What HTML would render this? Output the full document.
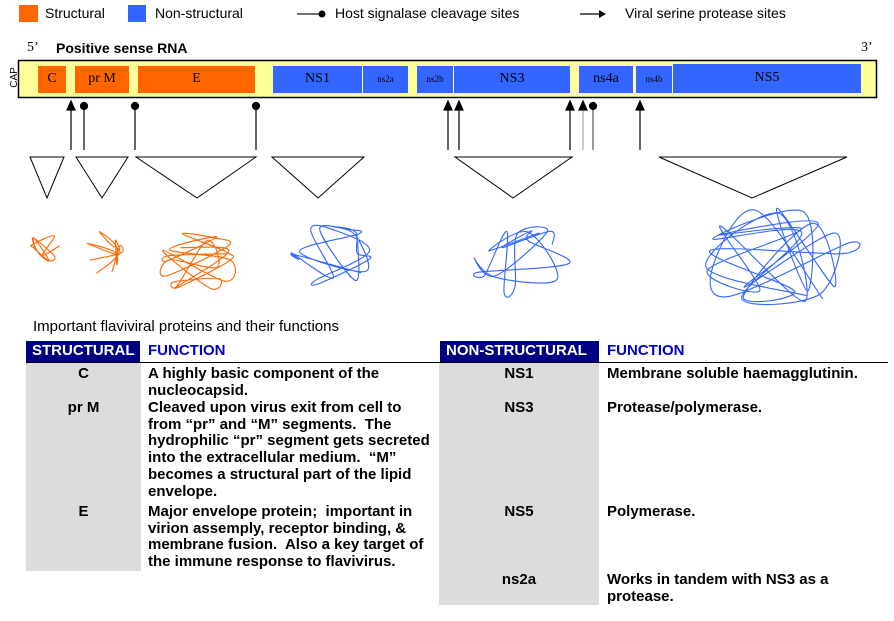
<!DOCTYPE html>
<html><head><meta charset="utf-8"><style>
body{margin:0;width:894px;height:621px;background:#fff;position:relative;overflow:hidden;font-family:"Liberation Sans",Arial,sans-serif;}
.a{position:absolute;white-space:nowrap;}
.b{font-weight:bold;font-size:15px;line-height:16.7px;}
.s{font-family:"Liberation Serif",serif;}
</style></head><body>
<svg width="894" height="621" style="position:absolute;left:0;top:0" id="sv">
<rect x="19" y="5" width="19" height="17" fill="#ff6600"/>
<rect x="128" y="5" width="18" height="17" fill="#3366ff"/>
<line x1="297" y1="14" x2="320" y2="14" stroke="#444" stroke-width="1.5"/><circle cx="322" cy="14" r="3.5" fill="#000"/>
<line x1="580" y1="14" x2="600" y2="14" stroke="#000" stroke-width="1.2"/><polygon points="599,10 606,14 599,18" fill="#000"/>
<rect x="18.5" y="60.5" width="858" height="37" fill="#ffff99" stroke="#000" stroke-width="1.5"/>
<g fill="#ff6600"><rect x="38" y="66" width="28" height="27"/><rect x="75" y="66" width="54" height="27"/><rect x="138" y="66" width="117" height="27"/></g>
<g fill="#3366ff"><rect x="273" y="66" width="89" height="27"/><rect x="363" y="66" width="45" height="27"/><rect x="417" y="66" width="36" height="27"/><rect x="454" y="66" width="116" height="27"/><rect x="579" y="66" width="54" height="27"/><rect x="636" y="66" width="36" height="27"/><rect x="673" y="64" width="188" height="29"/></g>
<g stroke="#000" stroke-width="1.2" fill="#000">
<line x1="71" y1="150" x2="71" y2="108"/><polygon points="67,110 71,101 75,110"/>
<line x1="84" y1="150" x2="84" y2="106"/><circle cx="84" cy="106" r="3.5"/>
<line x1="135" y1="150" x2="135" y2="106"/><circle cx="135" cy="106" r="3.5"/>
<line x1="256" y1="150" x2="256" y2="106"/><circle cx="256" cy="106" r="3.5"/>
<line x1="448" y1="150" x2="448" y2="108"/><polygon points="444,110 448,101 452,110"/>
<line x1="459" y1="150" x2="459" y2="108"/><polygon points="455,110 459,101 463,110"/>
<line x1="570" y1="150" x2="570" y2="108"/><polygon points="566,110 570,101 574,110"/>
<line x1="583" y1="150" x2="583" y2="108" stroke="#aaa"/><polygon points="579,110 583,101 587,110"/>
<line x1="593" y1="150" x2="593" y2="106" stroke="#555"/><circle cx="593" cy="106" r="3.5"/>
<line x1="640" y1="150" x2="640" y2="108"/><polygon points="636,110 640,101 644,110"/>
</g>
<g fill="none" stroke="#000" stroke-width="1">
<polygon points="30,157 64,157 47,198"/><polygon points="76,157 128,157 102,198"/><polygon points="136,157 256,157 197,198"/><polygon points="272,157 364,157 318,198"/><polygon points="455,157 572,157 513,198"/><polygon points="659,157 847,157 752,198"/>
</g>
<rect x="26" y="341" width="114" height="21" fill="#000080"/>
<rect x="440" y="341" width="159" height="21" fill="#000080"/>
<rect x="26" y="363" width="115" height="208" fill="#dcdcdc"/>
<rect x="439" y="363" width="160" height="242" fill="#dcdcdc"/>
<line x1="26" y1="362.5" x2="888" y2="362.5" stroke="#000" stroke-width="1"/>
</svg>
<div class="a" style="left:45px;top:5px;font-size:14px">Structural</div>
<div class="a" style="left:155px;top:5px;font-size:14px">Non-structural</div>
<div class="a" style="left:335px;top:5px;font-size:14px">Host signalase cleavage sites</div>
<div class="a" style="left:625px;top:5px;font-size:14px">Viral serine protease sites</div>
<div class="a s" style="left:27px;top:40px;font-size:14px">5’</div>
<div class="a" style="left:56px;top:40px;font-size:14px;font-weight:bold">Positive sense RNA</div>
<div class="a s" style="left:861px;top:40px;font-size:14px">3’</div>
<div class="a" style="left:4px;top:72px;font-size:10px;transform:rotate(-90deg);color:#000">CAP</div>
<div class="a s" style="left:38px;top:71px;width:28px;text-align:center;font-size:14px">C</div>
<div class="a s" style="left:75px;top:71px;width:54px;text-align:center;font-size:14px">pr M</div>
<div class="a s" style="left:138px;top:71px;width:117px;text-align:center;font-size:14px">E</div>
<div class="a s" style="left:273px;top:71px;width:89px;text-align:center;font-size:14px">NS1</div>
<div class="a s" style="left:363px;top:74px;width:45px;text-align:center;font-size:9px">ns2a</div>
<div class="a s" style="left:417px;top:74px;width:36px;text-align:center;font-size:9px">ns2b</div>
<div class="a s" style="left:454px;top:71px;width:116px;text-align:center;font-size:14px">NS3</div>
<div class="a s" style="left:579px;top:71px;width:54px;text-align:center;font-size:14px">ns4a</div>
<div class="a s" style="left:636px;top:74px;width:36px;text-align:center;font-size:9px">ns4b</div>
<div class="a s" style="left:673px;top:70px;width:188px;text-align:center;font-size:14px">NS5</div>
<div class="a" style="left:33px;top:318px;font-size:15px">Important flaviviral proteins and their functions</div>
<div class="a b" style="left:32px;top:343px;color:#fff;font-size:15px">STRUCTURAL</div>
<div class="a b" style="left:148px;top:343px;color:#0000cc;font-size:15px">FUNCTION</div>
<div class="a b" style="left:446px;top:343px;color:#fff;font-size:15px">NON-STRUCTURAL</div>
<div class="a b" style="left:607px;top:343px;color:#0000cc;font-size:15px">FUNCTION</div>
<div class="a b" style="left:26px;top:366px;width:115px;text-align:center">C</div>
<div class="a b" style="left:26px;top:400px;width:115px;text-align:center">pr M</div>
<div class="a b" style="left:26px;top:504px;width:115px;text-align:center">E</div>
<div class="a b" style="left:148px;top:366px">A highly basic component of the<br>nucleocapsid.</div>
<div class="a b" style="left:148px;top:400px">Cleaved upon virus exit from cell to<br>from “pr” and “M” segments.&nbsp; The<br>hydrophilic “pr” segment gets secreted<br>into the extracellular medium.&nbsp; “M”<br>becomes a structural part of the lipid<br>envelope.</div>
<div class="a b" style="left:148px;top:504px">Major envelope protein;&nbsp; important in<br>virion assemply, receptor binding, &amp;<br>membrane fusion.&nbsp; Also a key target of<br>the immune response to flavivirus.</div>
<div class="a b" style="left:439px;top:366px;width:160px;text-align:center">NS1</div>
<div class="a b" style="left:439px;top:400px;width:160px;text-align:center">NS3</div>
<div class="a b" style="left:439px;top:504px;width:160px;text-align:center">NS5</div>
<div class="a b" style="left:439px;top:572px;width:160px;text-align:center">ns2a</div>
<div class="a b" style="left:607px;top:366px">Membrane soluble haemagglutinin.</div>
<div class="a b" style="left:607px;top:400px">Protease/polymerase.</div>
<div class="a b" style="left:607px;top:504px">Polymerase.</div>
<div class="a b" style="left:607px;top:572px">Works in tandem with NS3 as a<br>protease.</div>
<script>
(function(){
var s=document.getElementById('sv'),seed=11;
function r(){seed=(seed*16807)%2147483647;return seed/2147483647;}
function scr(x0,y0,x1,y1,n,col){
 var cx=(x0+x1)/2,cy=(y0+y1)/2,rx=(x1-x0)/2,ry=(y1-y0)/2,p=[];
 for(var i=0;i<n;i++){var a=r()*6.283,d=0.5+0.5*Math.sqrt(r());p.push([cx+Math.cos(a)*rx*d,cy+Math.sin(a)*ry*d]);}
 var d="M"+p[0][0].toFixed(1)+","+p[0][1].toFixed(1);
 for(var i=0;i<n-1;i++){var p0=p[Math.max(0,i-1)],p1=p[i],p2=p[i+1],p3=p[Math.min(n-1,i+2)];
  d+=" C"+(p1[0]+(p2[0]-p0[0])/6).toFixed(1)+","+(p1[1]+(p2[1]-p0[1])/6).toFixed(1)+" "+(p2[0]-(p3[0]-p1[0])/6).toFixed(1)+","+(p2[1]-(p3[1]-p1[1])/6).toFixed(1)+" "+p2[0].toFixed(1)+","+p2[1].toFixed(1);}
 var e=document.createElementNS("http://www.w3.org/2000/svg","path");
 e.setAttribute("d",d);e.setAttribute("fill","none");e.setAttribute("stroke",col);e.setAttribute("stroke-width","1.1");s.appendChild(e);}
scr(30,230,62,262,12,"#ff6600");
scr(84,230,122,276,14,"#ff6600");
scr(160,226,232,296,24,"#ff6600");
scr(288,220,376,286,22,"#3366ff");
scr(473,225,572,296,20,"#3366ff");
scr(705,205,852,312,30,"#3366ff");
})();
</script>
</body></html>
